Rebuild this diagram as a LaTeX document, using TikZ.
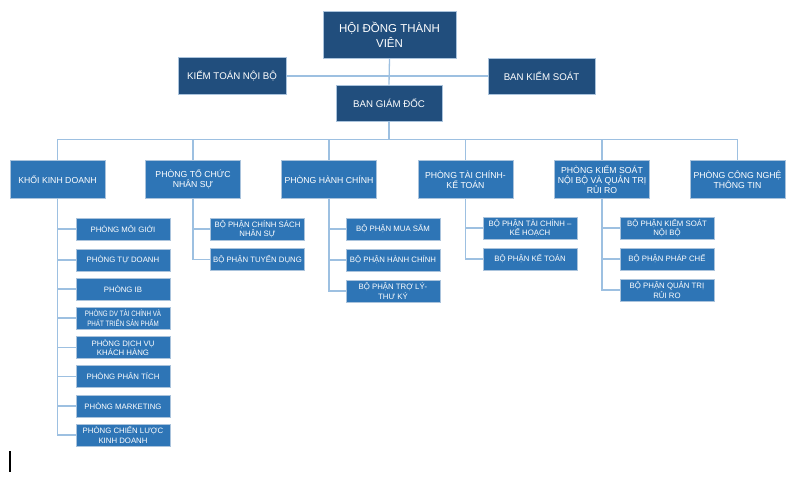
\documentclass[tikz,border=0pt]{standalone}
\usepackage{fontspec}
\setmainfont{Liberation Sans}
\newfontfamily\narrowfont[FakeStretch=0.8]{Liberation Sans}
\definecolor{navy}{RGB}{33,78,125}
\definecolor{midblue}{RGB}{46,117,182}
\definecolor{linkblue}{RGB}{157,192,225}
\definecolor{edgeblue}{RGB}{170,195,220}

\begin{document}
\begin{tikzpicture}[x=1pt,y=-1pt,
  board/.style={fill=navy,draw=edgeblue,line width=0.6pt,text=white,align=center,inner sep=0pt},
  dept/.style={fill=midblue,draw=edgeblue,line width=0.6pt,text=white,align=center,inner sep=0pt,
    minimum width=95pt,minimum height=38pt,font=\fontsize{8.7}{10}\selectfont},
  unit/.style={fill=midblue,draw=edgeblue,line width=0.6pt,text=white,align=center,inner sep=0pt,
    minimum width=94pt,minimum height=22pt,font=\fontsize{7.8}{9.3}\selectfont},
  link/.style={draw=linkblue,line width=1.3pt}]
\useasboundingbox (0,0) rectangle (801,483);
\node[board,minimum width=133pt,minimum height=47pt,font=\fontsize{11.5}{15}\selectfont] (hdtv) at (389.5,34.5) {HỘI ĐỒNG THÀNH\\VIÊN};
\node[board,minimum width=108pt,minimum height=37pt,font=\fontsize{9.7}{12}\selectfont] (ktnb) at (232,76) {KIỂM TOÁN NỘI BỘ};
\node[board,minimum width=107pt,minimum height=36pt,font=\fontsize{9.7}{12}\selectfont] (bks) at (541.5,76) {BAN KIỂM SOÁT};
\node[board,minimum width=106pt,minimum height=36pt,font=\fontsize{9.7}{12}\selectfont] (bgd) at (389,103) {BAN GIÁM ĐỐC};
\draw[link] (hdtv.south) -- (bgd.north);
\draw[link] (ktnb.east) -- (bks.west);

\node[dept] (kkd) at (57.5,179.5) {KHỐI KINH DOANH};
\node[dept] (tcns) at (193,179.5) {PHÒNG TỔ CHỨC\\NHÂN SỰ};
\node[dept] (hc) at (329,179.5) {PHÒNG HÀNH CHÍNH};
\node[dept] (tckt) at (465.5,179.5) {PHÒNG TÀI CHÍNH-\\KẾ TOÁN};
\node[dept] (ks) at (602,179.5) {PHÒNG KIỂM SOÁT\\NỘI BỘ VÀ QUẢN TRỊ\\RỦI RO};
\node[dept] (cntt) at (737.5,179.5) {PHÒNG CÔNG NGHỆ\\THÔNG TIN};
\foreach \d in {kkd,tcns,hc,tckt,ks,cntt}
  \draw[link] (bgd.south) -- ++(0,18) -| (\d.north);

\node[unit] (mg) at (123,229) {PHÒNG MÔI GIỚI};
\node[unit] (td) at (123,260) {PHÒNG TỰ DOANH};
\node[unit] (ib) at (123,289) {PHÒNG IB};
\node[unit,font=\narrowfont\fontsize{7.8}{9.3}\selectfont] (dv) at (123,318) {PHÒNG DV TÀI CHÍNH VÀ\\PHÁT TRIỂN SẢN PHẨM};
\node[unit] (dvkh) at (123,347.5) {PHÒNG DỊCH VỤ\\KHÁCH HÀNG};
\node[unit] (pt) at (123,376.5) {PHÒNG PHÂN TÍCH};
\node[unit] (mkt) at (123,406) {PHÒNG MARKETING};
\node[unit] (cl) at (123,435) {PHÒNG CHIẾN LƯỢC\\KINH DOANH};
\foreach \c in {mg,td,ib,dv,dvkh,pt,mkt,cl}
  \draw[link] (kkd.south) |- (\c.west);

\node[unit] (cs) at (257.5,229) {BỘ PHẬN CHÍNH SÁCH\\NHÂN SỰ};
\node[unit] (tdg) at (257.5,259.5) {BỘ PHẬN TUYỂN DỤNG};
\foreach \c in {cs,tdg}
  \draw[link] (tcns.south) |- (\c.west);

\node[unit] (ms) at (393,229) {BỘ PHẬN MUA SẮM};
\node[unit] (bphc) at (393,260) {BỘ PHẬN HÀNH CHÍNH};
\node[unit] (tl) at (393,291) {BỘ PHẬN TRỢ LÝ-\\THƯ KÝ};
\foreach \c in {ms,bphc,tl}
  \draw[link] (hc.south) |- (\c.west);

\node[unit] (tckh) at (530,228) {BỘ PHẬN TÀI CHÍNH –\\KẾ HOẠCH};
\node[unit] (kt) at (530,259) {BỘ PHẬN KẾ TOÁN};
\foreach \c in {tckh,kt}
  \draw[link] (tckt.south) |- (\c.west);

\node[unit] (ksnb) at (667,228) {BỘ PHẬN KIỂM SOÁT\\NỘI BỘ};
\node[unit] (pc) at (667,259) {BỘ PHẬN PHÁP CHẾ};
\node[unit] (qtrr) at (667,290) {BỘ PHẬN QUẢN TRỊ\\RỦI RO};
\foreach \c in {ksnb,pc,qtrr}
  \draw[link] (ks.south) |- (\c.west);

\draw[line width=1.2pt] (10,451) -- (10,472);
\end{tikzpicture}
\end{document}
